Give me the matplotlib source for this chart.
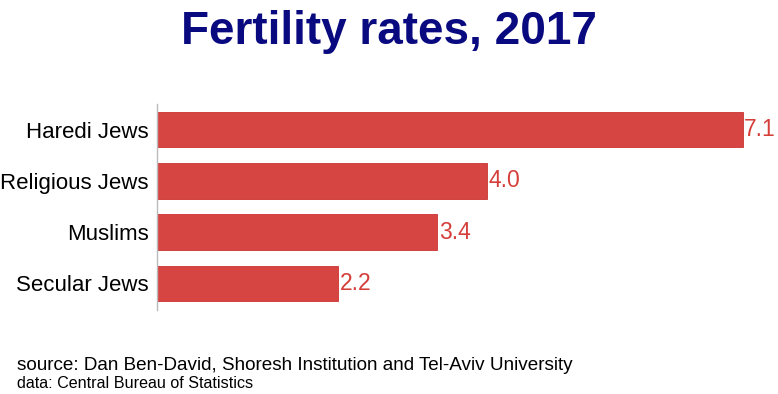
import matplotlib
matplotlib.use("Agg")
import matplotlib.pyplot as plt

categories = ["Haredi Jews", "Religious Jews", "Muslims", "Secular Jews"]
values = [7.1, 4.0, 3.4, 2.2]
value_labels = ["7.1", "4.0", "3.4", "2.2"]

W, H = 778, 394
fig = plt.figure(figsize=(W / 100, H / 100), dpi=100)
plt.rcParams['font.family'] = ['Liberation Sans', 'DejaVu Sans']

ax = fig.add_axes([157 / W, 1 - 310 / H, (W - 157) / W, (310 - 104) / H])
bar_color = "#d64541"
pos = list(range(len(categories)))
ax.barh(pos, values, height=0.69, color=bar_color, edgecolor="#cc3333", linewidth=0.6)
for p, v, lab in zip(pos, values, value_labels):
    ax.text(v + 0.02, p, lab, va="center", ha="left", fontsize=16.5, color="#d43f3a")
ax.set_ylim(3.52, -0.5)
ax.set_xlim(0, 7.53)
ax.set_yticks(pos)
ax.set_yticklabels(categories, fontsize=16)
ax.tick_params(axis="y", length=0, pad=6)
ax.set_xticks([])
for s in ["top", "right", "bottom"]:
    ax.spines[s].set_visible(False)
ax.spines["left"].set_color("#bbbbbb")
ax.spines["left"].set_linewidth(1)

fig.text(0.5, 1 - 32 / H, "Fertility rates, 2017", ha="center", va="center",
         fontsize=33, fontweight="bold", color="#0a0a80")
fig.text(17 / W, 1 - 366 / H, "source: Dan Ben-David, Shoresh Institution and Tel-Aviv University",
         ha="left", va="center", fontsize=13.6, color="black")
fig.text(17 / W, 1 - 383 / H, "data: Central Bureau of Statistics",
         ha="left", va="center", fontsize=11.6, color="black")

fig.savefig("out.png", dpi=100)
